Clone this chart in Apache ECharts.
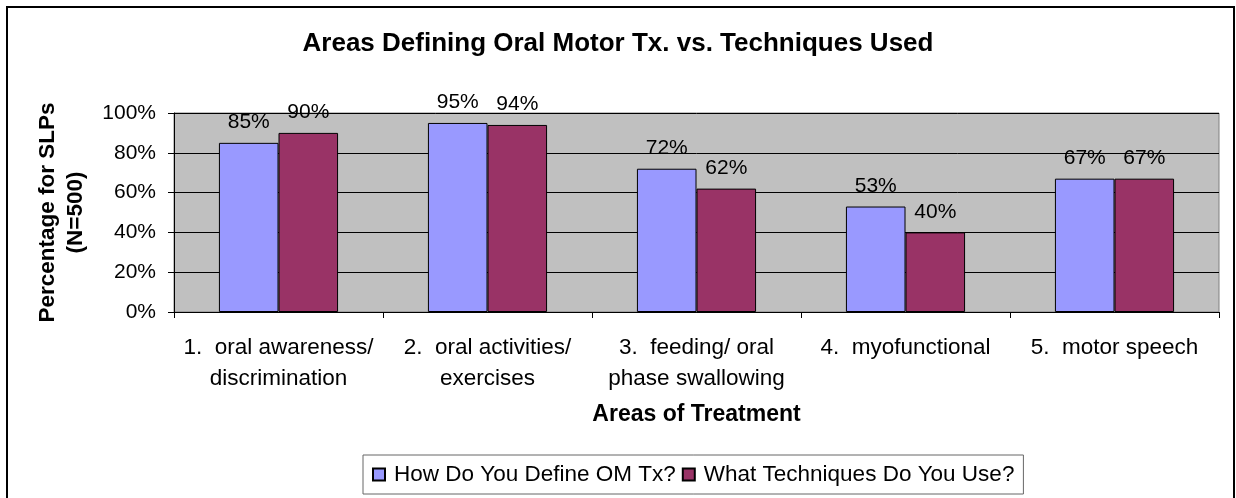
<!DOCTYPE html>
<html>
<head>
<meta charset="utf-8">
<script src="https://cdn.jsdelivr.net/npm/echarts@6/dist/echarts.min.js"></script>
<style>
html,body{margin:0;padding:0;background:#fff;}
#chart{width:1236px;height:498px;}
</style>
</head>
<body>
<div id="chart"></div>
<script>
const categories = [
  "1.  oral awareness/\ndiscrimination",
  "2.  oral activities/\nexercises",
  "3.  feeding/ oral\nphase swallowing",
  "4.  myofunctional",
  "5.  motor speech"
];
const defineValues = [85, 95, 72, 53, 67];
const techniqueValues = [90, 94, 62, 40, 67];
const seriesNames = ["How Do You Define OM Tx?", "What Techniques Do You Use?"];
const yTicks = [0, 20, 40, 60, 80, 100];

const FONT = "Liberation Sans, Arial, sans-serif";
const chart = echarts.init(document.getElementById('chart'));

const labelStyle = {
  show: true, position: 'top', distance: 10,
  formatter: p => p.value + '%',
  fontFamily: FONT, fontSize: 21, color: '#000'
};

chart.setOption({
  backgroundColor: '#fff',
  animation: false,
  title: {
    text: 'Areas Defining Oral Motor Tx. vs. Techniques Used',
    left: 'center', top: 26,
    textStyle: { fontFamily: FONT, fontSize: 26, fontWeight: 'bold', color: '#000' }
  },
  graphic: [{
    type: 'rect', silent: true, z: -1,
    shape: { x: 7, y: 7, width: 1227, height: 600 },
    style: { fill: 'none', stroke: '#000', lineWidth: 2 }
  }],
  legend: {
    left: 363, top: 455,
    orient: 'horizontal',
    padding: [8, 9, 8, 9],
    borderColor: '#666', borderWidth: 1,
    itemWidth: 12, itemHeight: 12, itemGap: 6,
    icon: 'rect',
    textStyle: { fontFamily: FONT, fontSize: 22.5, color: '#000', padding: [0, 0, 0, 4] },
    data: seriesNames
  },
  grid: {
    left: 174, right: 17, top: 113, bottom: 186,
    show: true, backgroundColor: '#C0C0C0', borderColor: '#808080', borderWidth: 1
  },
  xAxis: {
    type: 'category',
    data: categories,
    name: 'Areas of Treatment',
    nameLocation: 'middle', nameGap: 90,
    nameTextStyle: { fontFamily: FONT, fontSize: 23, fontWeight: 'bold', color: '#000', lineHeight: 26 },
    axisLine: { lineStyle: { color: '#000', width: 1 } },
    axisTick: { show: true, length: 6, alignWithLabel: false, lineStyle: { color: '#000' } },
    axisLabel: { interval: 0, margin: 20, fontFamily: FONT, fontSize: 22.5, color: '#000', lineHeight: 31 }
  },
  yAxis: {
    type: 'value', min: 0, max: 100, interval: 20,
    name: 'Percentage for SLPs\n(N=500)',
    nameLocation: 'middle', nameRotate: 90, nameGap: 84,
    nameTextStyle: { fontFamily: FONT, fontSize: 22.5, fontWeight: 'bold', color: '#000', lineHeight: 28 },
    axisLine: { show: true, lineStyle: { color: '#000', width: 1 } },
    axisTick: { show: true, length: 6, lineStyle: { color: '#000' } },
    splitLine: { show: true, lineStyle: { color: '#000', width: 1 } },
    axisLabel: {
      margin: 18, fontFamily: FONT, fontSize: 21, color: '#000',
      formatter: v => yTicks.indexOf(v) >= 0 ? v + '%' : ''
    }
  },
  series: [
    {
      name: seriesNames[0], type: 'bar', data: defineValues,
      barGap: '0%', barCategoryGap: '43%',
      itemStyle: { color: '#9999FF', borderColor: '#000', borderWidth: 1 },
      label: labelStyle
    },
    {
      name: seriesNames[1], type: 'bar', data: techniqueValues,
      barGap: '0%', barCategoryGap: '43%',
      itemStyle: { color: '#993366', borderColor: '#000', borderWidth: 1 },
      label: labelStyle
    }
  ]
});
</script>
</body>
</html>
